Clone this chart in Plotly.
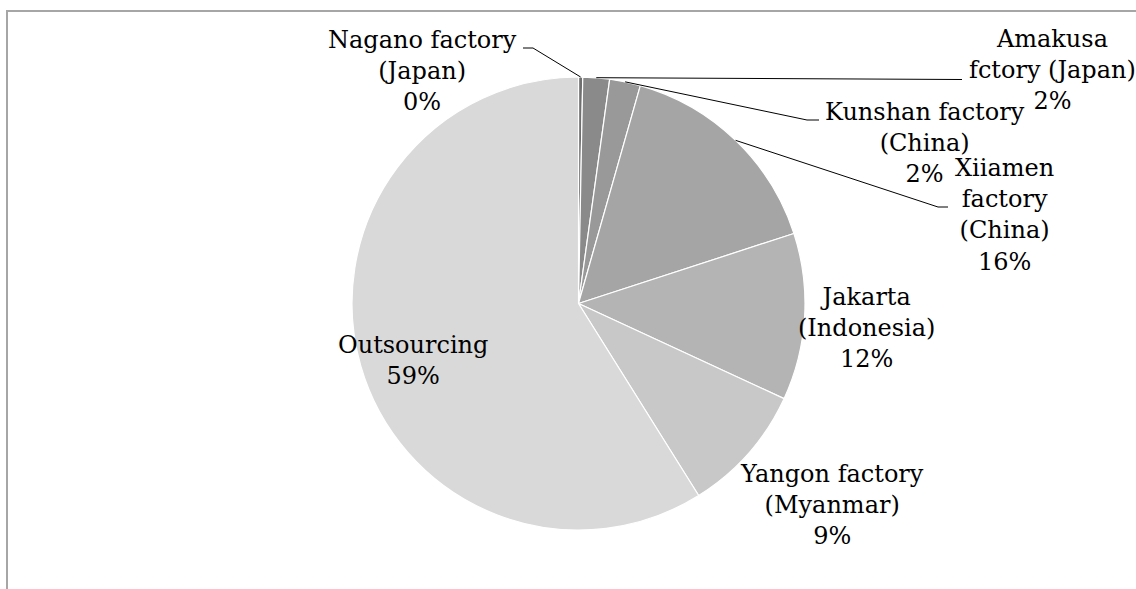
import math
import plotly.graph_objects as go

# ---- data ----
labels = ["Nagano factory<br>(Japan)", "Amakusa<br>fctory (Japan)", "Kunshan factory<br>(China)",
          "Xiiamen<br>factory<br>(China)", "Jakarta<br>(Indonesia)", "Yangon factory<br>(Myanmar)",
          "Outsourcing"]
values = [0.3, 1.9, 2.2, 15.6, 11.9, 9.2, 58.9]
colors = ["#6f6f6f", "#8a8a8a", "#999999", "#a5a5a5", "#b4b4b4", "#c8c8c8", "#d9d9d9"]

# ---- layout constants (pixels) ----
W, H = 1136, 589
CX, CY, R = 578.5, 303.5, 226.5
FONT = dict(family="DejaVu Serif", size=24, color="#000000")

def px(x):
    return x / W

def py(y):
    return 1 - y / H

fig = go.Figure(go.Pie(
    labels=labels, values=values, sort=False, direction="clockwise", rotation=0,
    marker=dict(colors=colors, line=dict(color="#ffffff", width=1.2)),
    textinfo="none", hoverinfo="label+percent", showlegend=False,
    domain=dict(x=[px(CX - R), px(CX + R)], y=[py(CY + R), py(CY - R)]),
))

total = sum(values)
# label block centres (x, y middle) and leader-line knee/end points (pixels)
label_pos = [(422, 71), (1052, 70), (925, 143), (1004, 215), (866, 328), (832, 505), (413, 360)]
leaders = {
    0: [(533, 48), (523, 48)],
    1: [(962, 79.5)],
    2: [(807, 120), (819, 120)],
    3: [(938, 207), (948, 207)],
}

shapes = []
cum = 0.0
for i, v in enumerate(values):
    mid = (cum + v / 2) / total * 2 * math.pi
    cum += v
    if i in leaders:
        pts = [(CX + R * math.sin(mid), CY - R * math.cos(mid))] + leaders[i]
        for (x0, y0), (x1, y1) in zip(pts[:-1], pts[1:]):
            shapes.append(dict(type="line", xref="paper", yref="paper",
                               x0=px(x0), y0=py(y0), x1=px(x1), y1=py(y1),
                               line=dict(color="#000000", width=1)))

annotations = []
for i, (lab, v) in enumerate(zip(labels, values)):
    pct = round(v / total * 100)
    x, y = label_pos[i]
    annotations.append(dict(text=f"{lab}<br>{pct}%", x=px(x), y=py(y), xref="paper", yref="paper",
                            xanchor="center", yanchor="middle", showarrow=False, align="center",
                            font=FONT))

# chart frame
shapes.append(dict(type="rect", xref="paper", yref="paper", x0=px(7), y0=py(11), x1=px(W + 20), y1=py(H + 20),
                   line=dict(color="#a6a6a6", width=2), fillcolor="rgba(0,0,0,0)", layer="below"))

fig.update_layout(width=W, height=H, margin=dict(l=0, r=0, t=0, b=0),
                  paper_bgcolor="#ffffff", plot_bgcolor="#ffffff",
                  shapes=shapes, annotations=annotations)

fig.write_html("out.html", config={"displayModeBar": False},
               post_script="document.body.style.margin='0px';document.body.style.overflow='hidden';")
